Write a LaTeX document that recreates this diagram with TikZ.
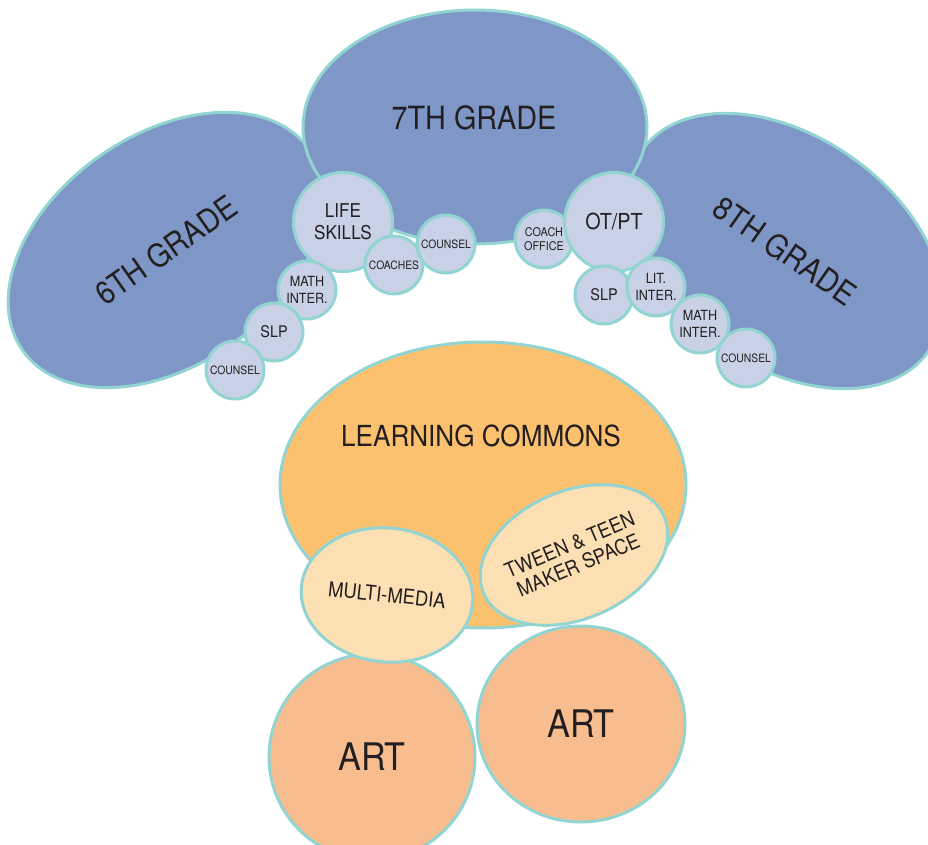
\documentclass[tikz,border=0pt]{standalone}
\usepackage{fontspec}
\setmainfont[FakeStretch=0.9]{TeX Gyre Heros}
\usepackage{tikz}
\usetikzlibrary{shapes.geometric}
\definecolor{gradeblue}{RGB}{127,151,199}
\definecolor{roomlav}{RGB}{200,209,229}
\definecolor{rim}{RGB}{146,212,210}
\definecolor{commonsfill}{RGB}{252,193,111}
\definecolor{nookfill}{RGB}{253,223,180}
\definecolor{artfill}{RGB}{248,189,143}
\definecolor{ink}{RGB}{35,31,32}
\tikzset{
	blob/.style={draw=rim, line width=3pt, inner sep=0pt, text=ink, align=center},
	grade/.style={blob, ellipse, fill=gradeblue, font=\fontsize{32}{36}\selectfont},
	room/.style={blob, circle, fill=roomlav, minimum size=58pt},
	bigroom/.style={room, minimum size=99pt},
	tiny/.style={font=\fontsize{11.5}{13}\selectfont},
	mid/.style={font=\fontsize{14}{17}\selectfont},
	slp/.style={font=\fontsize{16}{18}\selectfont},
	nook/.style={blob, ellipse, fill=nookfill, font=\fontsize{20.5}{22}\selectfont},
	art/.style={blob, ellipse, fill=artfill, font=\fontsize{38}{40}\selectfont},
	lbl/.style={text=ink, inner sep=0pt}
}

\begin{document}
\begin{tikzpicture}[x=1pt, y=-1pt]
		%%%%% START %%%%%
		\useasboundingbox (0, 0) rectangle (928, 845);
		
		% grades
		\node[grade, minimum width=350pt, minimum height=230pt, rotate=35] (sixth) at (166, 250) {6TH GRADE};
		\node[grade, minimum width=350pt, minimum height=230pt, rotate=-35] (eighth) at (785, 251) {8TH GRADE};
		\node[grade, minimum width=344pt, minimum height=234pt] (seventh) at (475, 127) {};
		\node[lbl, font=\fontsize{32}{36}\selectfont] (seventhtxt) at (474, 118) {7TH GRADE};
		
		% rooms on the left
		\node[bigroom, font=\fontsize{19}{22}\selectfont] (lifeskills) at (343, 222) {LIFE\\SKILLS};
		\node[room, tiny] (coaches) at (394, 265) {COACHES};
		\node[room, tiny] (counseltop) at (446, 244) {COUNSEL};
		\node[room, mid] (mathleft) at (307, 290) {MATH\\INTER.};
		\node[room, slp] (slpleft) at (274, 332) {SLP};
		\node[room, tiny] (counselleft) at (235, 370) {COUNSEL};
		
		% rooms on the right
		\node[room, font=\fontsize{12}{14}\selectfont] (coachoffice) at (544, 239) {COACH\\OFFICE};
		\node[bigroom, font=\fontsize{22}{24}\selectfont] (otpt) at (614, 222) {OT/PT};
		\node[room, slp] (slpright) at (604, 295) {SLP};
		\node[room, mid] (litinter) at (656, 287) {LIT.\\INTER.};
		\node[room, mid] (mathright) at (700, 324) {MATH\\INTER.};
		\node[room, tiny] (counselright) at (746, 358) {COUNSEL};
		
		% commons and art
		\node[blob, ellipse, fill=commonsfill, minimum width=406pt, minimum height=286pt] (commons) at (483, 485) {};
		\node[lbl, font=\fontsize{29}{32}\selectfont] (commonstxt) at (481, 436) {LEARNING COMMONS};
		\node[art, minimum width=206pt, minimum height=206pt] (artleft) at (372, 757) {ART};
		\node[art, minimum width=208pt, minimum height=196pt] (artright) at (581, 724) {ART};
		\node[nook, minimum width=172pt, minimum height=134pt, rotate=-6] (multimedia) at (387, 595) {MULTI-MEDIA};
		\node[nook, minimum width=192pt, minimum height=128pt, rotate=23] (makerspace) at (574, 555) {TWEEN \& TEEN\\MAKER SPACE};
		
		%%%%% END %%%%%
	\end{tikzpicture}
\end{document}
